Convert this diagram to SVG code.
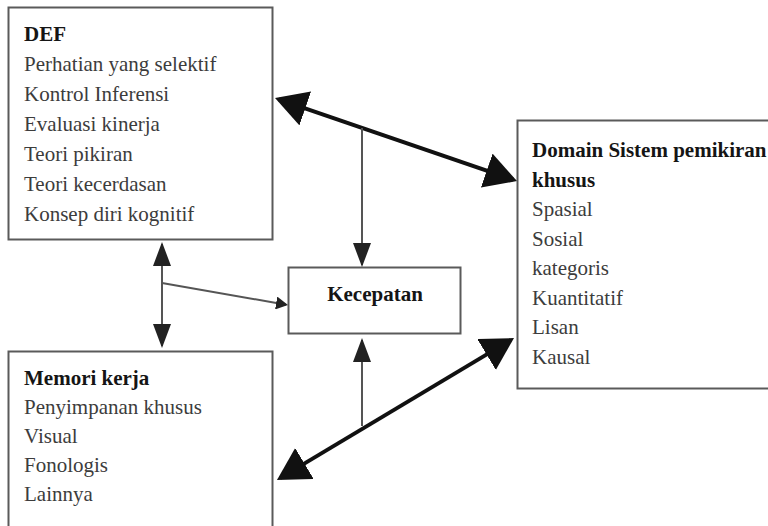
<svg xmlns="http://www.w3.org/2000/svg" width="768" height="526" viewBox="0 0 768 526">
  <style>
    .box { fill: #ffffff; stroke: #5a5a5a; stroke-width: 2; }
    .txt { font-family: "Liberation Serif", "Times New Roman", serif; font-size: 21px; fill: #3c3c3c; }
    .ttl { font-weight: bold; fill: #151515; }
    .thick { stroke: #111111; stroke-width: 4; fill: none; }
    .thin { stroke: #555555; stroke-width: 2; fill: none; }
  </style>
  <defs>
    <marker id="bigHead" markerUnits="userSpaceOnUse" markerWidth="32" markerHeight="36" refX="28" refY="18" orient="auto-start-reverse">
      <path d="M0,0 L32,18 L0,36 z" fill="#111111"/>
    </marker>
    <marker id="midHead" markerUnits="userSpaceOnUse" markerWidth="24" markerHeight="18" refX="22" refY="9" orient="auto-start-reverse">
      <path d="M0,0 L24,9 L0,18 z" fill="#222222"/>
    </marker>
    <marker id="smallHead" markerUnits="userSpaceOnUse" markerWidth="12" markerHeight="13" refX="10" refY="6.5" orient="auto">
      <path d="M0,0 L12,6.5 L0,13 z" fill="#222222"/>
    </marker>
  </defs>

  <rect width="768" height="526" fill="#ffffff"/>

  <!-- DEF node -->
  <g id="def">
    <rect class="box" x="8.5" y="7.5" width="264" height="232"/>
    <text class="txt ttl" x="24" y="41">DEF</text>
    <text class="txt" x="24" y="71">Perhatian yang selektif</text>
    <text class="txt" x="24" y="101">Kontrol Inferensi</text>
    <text class="txt" x="24" y="131">Evaluasi kinerja</text>
    <text class="txt" x="24" y="161">Teori pikiran</text>
    <text class="txt" x="24" y="191">Teori kecerdasan</text>
    <text class="txt" x="24" y="221">Konsep diri kognitif</text>
  </g>

  <!-- Domain node -->
  <g id="domain">
    <rect class="box" x="517.5" y="120.5" width="262" height="268"/>
    <text class="txt ttl" x="532" y="157">Domain Sistem pemikiran</text>
    <text class="txt ttl" x="532" y="186.5">khusus</text>
    <text class="txt" x="532" y="216">Spasial</text>
    <text class="txt" x="532" y="245.5">Sosial</text>
    <text class="txt" x="532" y="275">kategoris</text>
    <text class="txt" x="532" y="304.5">Kuantitatif</text>
    <text class="txt" x="532" y="334">Lisan</text>
    <text class="txt" x="532" y="363.5">Kausal</text>
  </g>

  <!-- Kecepatan node -->
  <g id="kecepatan">
    <rect class="box" x="288.5" y="267.5" width="172" height="66"/>
    <text class="txt ttl" x="375" y="301" text-anchor="middle">Kecepatan</text>
  </g>

  <!-- Memori kerja node -->
  <g id="memori">
    <rect class="box" x="8.5" y="351.5" width="264" height="190"/>
    <text class="txt ttl" x="24" y="385">Memori kerja</text>
    <text class="txt" x="24" y="414">Penyimpanan khusus</text>
    <text class="txt" x="24" y="443">Visual</text>
    <text class="txt" x="24" y="472">Fonologis</text>
    <text class="txt" x="24" y="501">Lainnya</text>
  </g>

  <!-- connectors -->
  <g id="connectors">
    <line class="thick" x1="278.8" y1="99.3" x2="513.2" y2="179.7" marker-start="url(#bigHead)" marker-end="url(#bigHead)"/>
    <line class="thick" x1="280.4" y1="477.9" x2="510.6" y2="340.1" marker-start="url(#bigHead)" marker-end="url(#bigHead)"/>
    <line class="thin" x1="162" y1="244" x2="162" y2="346" marker-start="url(#midHead)" marker-end="url(#midHead)"/>
    <line class="thin" x1="362" y1="128" x2="362" y2="265" marker-end="url(#midHead)"/>
    <line class="thin" x1="362" y1="426" x2="362" y2="340" marker-end="url(#midHead)"/>
    <line class="thin" x1="162" y1="283" x2="286" y2="304.7" marker-end="url(#smallHead)"/>
  </g>
</svg>
